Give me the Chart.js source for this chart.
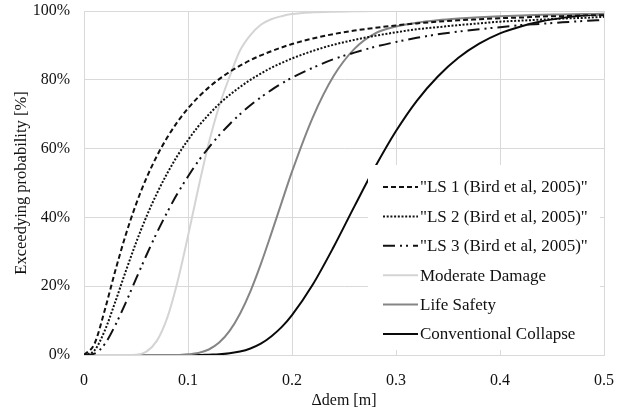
<!DOCTYPE html>
<html>
<head>
<meta charset="utf-8">
<script src="https://cdn.jsdelivr.net/npm/chart.js@4.4.1/dist/chart.umd.min.js"></script>
<style>
  html, body { margin: 0; padding: 0; background: #fff; }
  #wrap { width: 618px; height: 410px; }
</style>
</head>
<body>
<div id="wrap"><canvas id="fragilityChart" width="618" height="410"></canvas></div>
<script>
// displacement demand [m]
const dem = [0, 0.01, 0.02, 0.03, 0.04, 0.05, 0.06, 0.07, 0.08, 0.09, 0.10,
  0.11, 0.12, 0.13, 0.14, 0.15, 0.16, 0.17, 0.18, 0.19, 0.20,
  0.22, 0.24, 0.26, 0.28, 0.30, 0.32, 0.34, 0.36, 0.38, 0.40,
  0.42, 0.44, 0.46, 0.48, 0.50];

// exceeding probability [%]
const ls1 = [0, 3.2, 13.1, 24.4, 34.8, 43.8, 51.4, 57.8, 63.2, 67.8, 71.7,
  75.0, 77.8, 80.2, 82.3, 84.1, 85.7, 87.1, 88.3, 89.4, 90.4,
  92.0, 93.3, 94.3, 95.1, 95.8, 96.4, 96.9, 97.3, 97.6, 97.9,
  98.1, 98.4, 98.5, 98.7, 98.8];
const ls2 = [0, 1.3, 7.1, 15.4, 24.2, 32.6, 40.2, 46.9, 52.8, 58.0, 62.5,
  66.5, 69.9, 73.0, 75.6, 77.9, 80.0, 81.8, 83.5, 84.9, 86.2,
  88.4, 90.2, 91.6, 92.8, 93.8, 94.7, 95.3, 95.9, 96.4, 96.9,
  97.2, 97.5, 97.8, 98.0, 98.3];
const ls3 = [0, 0.4, 3.2, 8.6, 15.1, 22.1, 29.0, 35.5, 41.5, 47.0, 51.9,
  56.4, 60.3, 63.9, 67.1, 70.0, 72.6, 74.9, 77.0, 78.9, 80.6,
  83.5, 86.0, 87.9, 89.6, 91.0, 92.2, 93.2, 94.0, 94.7, 95.3,
  95.9, 96.3, 96.7, 97.1, 97.4];
const moderate = [0, 0, 0, 0, 0, 0.1, 1.0, 4.1, 10.8, 21.4, 34.6,
  48.6, 61.6, 72.4, 80.9, 88.5, 93.0, 96.0, 97.6, 98.5, 99.1,
  99.6, 99.8, 99.9, 100, 100, 100, 100, 100, 100, 100,
  100, 100, 100, 100, 100];
const lifeSafety = [0, 0, 0, 0, 0, 0, 0, 0, 0, 0, 0.2,
  0.6, 1.6, 3.6, 7.0, 12.0, 18.5, 26.4, 35.2, 44.3, 53.3,
  69.1, 81.1, 89.0, 93.5, 95.5, 96.6, 97.3, 97.8, 98.2, 98.5,
  98.7, 98.9, 99.0, 99.1, 99.2];
const collapse = [0, 0, 0, 0, 0, 0, 0, 0, 0, 0, 0,
  0, 0.1, 0.2, 0.5, 1.0, 1.9, 3.3, 5.4, 8.1, 11.6,
  20.5, 31.4, 43.2, 54.7, 65.1, 73.9, 80.9, 86.4, 90.5, 93.5,
  95.5, 97.0, 98.0, 98.7, 99.1];

const xTicks = [0, 0.1, 0.2, 0.3, 0.4, 0.5];
const yTicks = [0, 20, 40, 60, 80, 100];

const FONT = '"Liberation Serif", "Times New Roman", serif';

function pts(ys) {
  return dem.map((x, i) => ({ x: x, y: ys[i] }));
}

function series(label, ys, color, dash) {
  return {
    label: label,
    data: pts(ys),
    borderColor: color,
    borderWidth: 2,
    borderDash: dash,
    pointRadius: 0,
    fill: false,
    cubicInterpolationMode: 'monotone'
  };
}

// legend drawn inside the plot, on a white box
const boxLegend = {
  id: 'boxLegend',
  afterDatasetsDraw(chart) {
    const { ctx, chartArea } = chart;
    const x0 = chartArea.left + 284, y0 = chartArea.top + 154;
    const x1 = chartArea.right - 4, y1 = chartArea.bottom - 5;
    ctx.save();
    ctx.fillStyle = '#ffffff';
    ctx.fillRect(x0, y0, x1 - x0, y1 - y0);
    ctx.font = '17px ' + FONT;
    ctx.textBaseline = 'middle';
    ctx.textAlign = 'left';
    chart.data.datasets.forEach((ds, i) => {
      const y = y0 + 22 + i * 29.4;
      ctx.strokeStyle = ds.borderColor;
      ctx.lineWidth = ds.borderWidth;
      ctx.setLineDash(ds.borderDash);
      ctx.beginPath();
      ctx.moveTo(x0 + 15, y);
      ctx.lineTo(x0 + 50, y);
      ctx.stroke();
      ctx.setLineDash([]);
      ctx.fillStyle = '#111';
      ctx.fillText(ds.label, x0 + 52, y + 1);
    });
    ctx.restore();
  }
};

const ctx = document.getElementById('fragilityChart').getContext('2d');
new Chart(ctx, {
  type: 'line',
  data: {
    datasets: [
      series('"LS 1 (Bird et al, 2005)"', ls1, '#111111', [5, 3]),
      series('"LS 2 (Bird et al, 2005)"', ls2, '#111111', [2, 1.7]),
      series('"LS 3 (Bird et al, 2005)"', ls3, '#111111', [12, 5, 2, 4, 2, 5]),
      series('Moderate Damage', moderate, '#d4d4d4', []),
      series('Life Safety', lifeSafety, '#858585', []),
      series('Conventional Collapse', collapse, '#0a0a0a', [])
    ]
  },
  options: {
    responsive: false,
    animation: false,
    devicePixelRatio: 1,
    layout: { padding: { top: 11, right: 14, bottom: 0, left: 0 } },
    plugins: {
      legend: { display: false },
      tooltip: { enabled: false }
    },
    scales: {
      x: {
        type: 'linear',
        min: 0,
        max: 0.5,
        afterFit: (s) => { s.height = 55; s.paddingLeft = 0; s.paddingRight = 0; },
        afterBuildTicks: (s) => { s.ticks = xTicks.map(v => ({ value: v })); },
        grid: { color: '#d9d9d9', lineWidth: 1, drawTicks: false },
        border: { color: '#d9d9d9' },
        ticks: {
          padding: 16,
          color: '#111',
          font: { family: FONT, size: 16 },
          maxRotation: 0,
          callback: (v) => String(v)
        },
        title: {
          display: true,
          text: 'Δdem [m]',
          color: '#111',
          font: { family: FONT, size: 16 },
          padding: { top: 0, bottom: 0 }
        }
      },
      y: {
        min: 0,
        max: 100,
        afterFit: (s) => { s.width = 84; s.paddingTop = 0; s.paddingBottom = 0; },
        afterBuildTicks: (s) => { s.ticks = yTicks.map(v => ({ value: v })); },
        grid: { color: '#d9d9d9', lineWidth: 1, drawTicks: false },
        border: { color: '#d9d9d9' },
        ticks: {
          padding: 14,
          color: '#111',
          font: { family: FONT, size: 16 },
          callback: (v) => v + '%'
        },
        title: {
          display: true,
          text: 'Exceedying probability [%]',
          color: '#111',
          font: { family: FONT, size: 16.5 },
          padding: { top: 12, bottom: 0 }
        }
      }
    }
  },
  plugins: [boxLegend]
});
</script>
</body>
</html>
